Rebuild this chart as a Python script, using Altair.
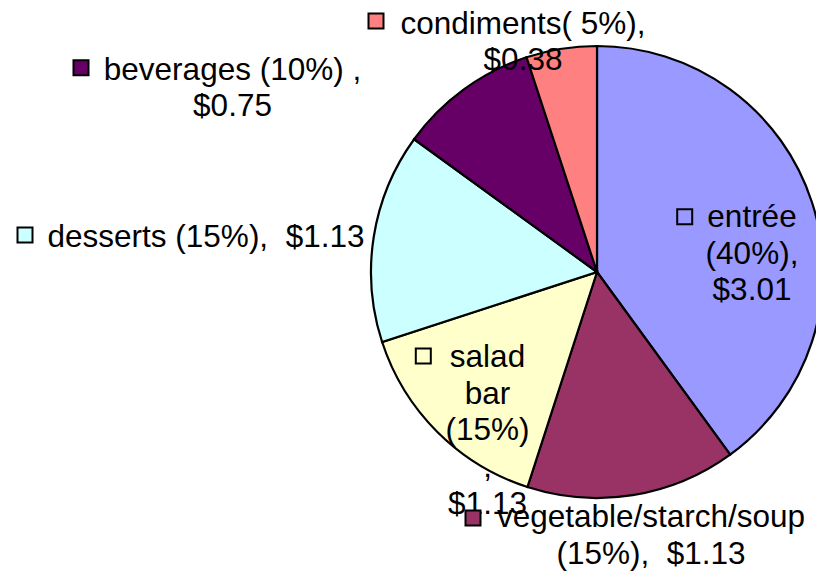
import altair as alt
import pandas as pd

# ---- data ----
categories = ["entrée", "vegetable/starch/soup", "salad bar", "desserts", "beverages", "condiments"]
values = [3.01, 1.13, 1.13, 1.13, 0.75, 0.38]
labels = [
    "entrée\n(40%),\n$3.01",
    "vegetable/starch/soup\n(15%),\u00a0 $1.13",
    "salad\nbar\n(15%)\n,\n$1.13",
    "desserts (15%),\u00a0 $1.13",
    "beverages (10%) ,\n$0.75",
    "condiments( 5%),\n$0.38",
]
colors = ["#9999FF", "#993366", "#FFFFCC", "#CCFFFF", "#660066", "#FF8080"]

df = pd.DataFrame({
    "category": categories,
    "value": values,
    "label": labels,
    "idx": list(range(len(categories))),
})

# ---- layout (pixels in plot area) ----
W, H = 808, 565
CX, CY, R = 589, 264, 226
# label: (center x, first baseline y); key square centre: (x, y)
label_pos = {
    "entrée": (744, 219),
    "vegetable/starch/soup": (643, 519),
    "salad bar": (479.5, 359),
    "desserts": (198, 239),
    "beverages": (224.5, 71.5),
    "condiments": (515, 25.5),
}
key_pos = {
    "entrée": (676.7, 208.7),
    "vegetable/starch/soup": (465, 510),
    "salad bar": (415.3, 348),
    "desserts": (17, 227),
    "beverages": (73, 59.7),
    "condiments": (368, 13),
}

color_scale = alt.Scale(domain=categories, range=colors)

base = alt.Chart(df)

pie = base.mark_arc(radius=R, stroke="black", strokeWidth=2.2).encode(
    theta=alt.Theta("value:Q", stack=True),
    color=alt.Color("category:N", scale=color_scale, legend=None),
    order=alt.Order("idx:Q"),
    x=alt.value(CX),
    y=alt.value(CY),
)

layers = [pie]
for cat in categories:
    lx, ly = label_pos[cat]
    layers.append(
        base.transform_filter(alt.datum.category == cat)
        .mark_text(
            align="center",
            baseline="alphabetic",
            font="Liberation Sans",
            fontSize=31.5,
            lineHeight=36.7,
            lineBreak="\n",
            color="black",
        )
        .encode(text=alt.Text("label:N"), x=alt.value(lx), y=alt.value(ly))
    )
for cat in categories:
    kx, ky = key_pos[cat]
    layers.append(
        base.transform_filter(alt.datum.category == cat)
        .mark_square(size=225, stroke="black", strokeWidth=2, opacity=1, filled=True)
        .encode(
            color=alt.Color("category:N", scale=color_scale, legend=None),
            x=alt.value(kx),
            y=alt.value(ky),
        )
    )

chart = (
    alt.layer(*layers)
    .properties(width=W, height=H, autosize=alt.AutoSizeParams(type="none"), padding=0)
    .configure_view(strokeWidth=0)
)

chart.save("out.html", embed_options={"renderer": "svg", "actions": False})
